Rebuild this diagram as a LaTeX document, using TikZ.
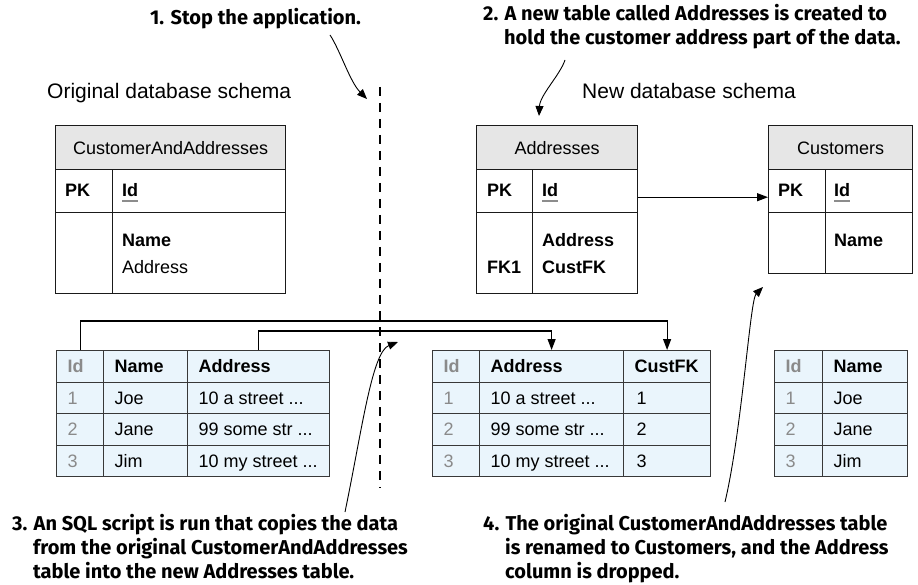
\documentclass[tikz,border=0pt]{standalone}
\usepackage{fontspec}
\setmainfont{Liberation Sans}
\newfontfamily\annfont{Fira Sans}
\usetikzlibrary{arrows.meta}
\definecolor{erline}{HTML}{1A1A1A}
\definecolor{hdrgray}{HTML}{E6E6E6}
\definecolor{dline}{HTML}{383838}
\definecolor{dfill}{HTML}{EAF5FC}
\definecolor{idgray}{HTML}{8A8A8A}
\definecolor{ulgray}{HTML}{8C8C8C}
\newcommand{\tabfont}{\fontsize{18}{21}\selectfont}
\newcommand{\lblfont}{\fontsize{21}{24}\selectfont}
\newcommand{\notefont}{\annfont\bfseries\fontsize{20}{24}\selectfont}
\newcommand{\cl}[2]{\makebox[#1pt][l]{#2}}
\tikzset{
  ercell/.style={draw=erline, line width=1.4pt, anchor=north west, inner sep=0pt, fill=white},
  erhead/.style={ercell, fill=hdrgray, minimum height=44pt, text height=13pt, text depth=0pt, font=\tabfont},
  ertxt/.style={inner sep=0pt, anchor=base west, font=\tabfont},
  erbold/.style={ertxt, font=\tabfont\bfseries},
  idul/.style={draw=ulgray, line width=1.6pt},
  dcell/.style={draw=dline, fill=dfill, line width=1.2pt, anchor=north west, minimum height=31.5pt, inner xsep=11pt, inner ysep=0pt, text height=13pt, text depth=0pt, font=\tabfont},
  dhead/.style={dcell, font=\tabfont\bfseries},
  dgray/.style={dcell, text=idgray},
  dghead/.style={dhead, text=idgray},
  conn/.style={draw=black, line width=1.2pt},
  headarrow/.style={-{Triangle[length=11pt,width=8pt]}},
  curvy/.style={draw=black, line width=0.9pt, -{Triangle[length=10pt,width=8pt]}},
  divider/.style={draw=black, line width=1.1pt, dash pattern=on 9pt off 7pt},
  annot/.style={inner sep=0pt, anchor=base west, font=\notefont},
  schemalbl/.style={inner sep=0pt, anchor=base west, font=\lblfont}
}
\begin{document}
\begin{tikzpicture}[x=1pt, y=-1pt]
\fill[white] (0,0) rectangle (918,585);
\useasboundingbox (0,0) rectangle (918,585);

% annotations
\node[annot] (t1) at (150,25) {1. Stop the application.};
\node[annot] (t2a) at (483,21) {2. A new table called Addresses is created to};
\node[annot] (t2b) at (504,45) {hold the customer address part of the data.};
\node[annot] (t3a) at (12,530) {3. An SQL script is run that copies the data};
\node[annot] (t3b) at (33,554) {from the original CustomerAndAddresses};
\node[annot] (t3c) at (33,578) {table into the new Addresses table.};
\node[annot] (t4a) at (483,530) {4. The original CustomerAndAddresses table};
\node[annot] (t4b) at (505,554) {is renamed to Customers, and the Address};
\node[annot] (t4c) at (505,578) {column is dropped.};

\node[schemalbl] (lorig) at (47,99) {Original database schema};
\node[schemalbl] (lnew) at (582,99) {New database schema};

% divider
\coordinate (dtop) at (380,87);
\coordinate (dbot) at (380,488);
\draw[divider] (dtop) -- (dbot);

% CustomerAndAddresses
\node[erhead, minimum width=230pt] (cah) at (55,125) {CustomerAndAddresses};
\node[ercell, minimum width=57pt, minimum height=43pt] (cak1) at (55,169) {};
\node[ercell, minimum width=173pt, minimum height=43pt] (caf1) at (112,169) {};
\node[ercell, minimum width=57pt, minimum height=81pt] (cak2) at (55,212) {};
\node[ercell, minimum width=173pt, minimum height=81pt] (caf2) at (112,212) {};
\node[erbold] (capk) at (65,197) {PK};
\node[erbold] (caid) at (122,197) {Id};
\draw[idul] ([yshift=-4pt]caid.base west) -- ([yshift=-4pt]caid.base east);
\node[erbold] (caname) at (122,246.5) {Name};
\node[ertxt] (caaddr) at (122,273.5) {Address};

% Addresses
\node[erhead, minimum width=161pt] (adh) at (476,125) {Addresses};
\node[ercell, minimum width=56pt, minimum height=43pt] (adk1) at (476,169) {};
\node[ercell, minimum width=105pt, minimum height=43pt] (adf1) at (532,169) {};
\node[ercell, minimum width=56pt, minimum height=81pt] (adk2) at (476,212) {};
\node[ercell, minimum width=105pt, minimum height=81pt] (adf2) at (532,212) {};
\node[erbold] (adpk) at (487,197) {PK};
\node[erbold] (adid) at (542,197) {Id};
\draw[idul] ([yshift=-4pt]adid.base west) -- ([yshift=-4pt]adid.base east);
\node[erbold] (adaddr) at (542,246.5) {Address};
\node[erbold] (adcfk) at (542,273.5) {CustFK};
\node[erbold] (adfk) at (487,273.5) {FK1};

% Customers
\node[erhead, minimum width=144pt] (cuh) at (768,125) {Customers};
\node[ercell, minimum width=57pt, minimum height=43pt] (cuk1) at (768,169) {};
\node[ercell, minimum width=87pt, minimum height=43pt] (cuf1) at (825,169) {};
\node[ercell, minimum width=57pt, minimum height=61pt] (cuk2) at (768,212) {};
\node[ercell, minimum width=87pt, minimum height=61pt] (cuf2) at (825,212) {};
\node[erbold] (cupk) at (778,197) {PK};
\node[erbold] (cuid) at (834,197) {Id};
\draw[idul] ([yshift=-4pt]cuid.base west) -- ([yshift=-4pt]cuid.base east);
\node[erbold] (cuname) at (834,246.5) {Name};

\draw[conn, headarrow] ([yshift=-6pt]adf1.east) -- ([yshift=-6pt]cuk1.west);

% data table 1
\node[dghead] (a11) at (56,350) {\cl{25}{Id}};
\node[dhead] (a12) at (103,350) {\cl{62}{Name}};
\node[dhead] (a13) at (187,350) {\cl{120}{Address}};
\node[dgray] (a21) at (56,381.5) {\cl{25}{1}};
\node[dcell] (a22) at (103,381.5) {\cl{62}{Joe}};
\node[dcell] (a23) at (187,381.5) {\cl{120}{10 a street ...}};
\node[dgray] (a31) at (56,413) {\cl{25}{2}};
\node[dcell] (a32) at (103,413) {\cl{62}{Jane}};
\node[dcell] (a33) at (187,413) {\cl{120}{99 some str ...}};
\node[dgray] (a41) at (56,444.5) {\cl{25}{3}};
\node[dcell] (a42) at (103,444.5) {\cl{62}{Jim}};
\node[dcell] (a43) at (187,444.5) {\cl{120}{10 my street ...}};

% data table 2
\node[dghead] (b11) at (432,350) {\cl{25}{Id}};
\node[dhead] (b12) at (479,350) {\cl{122}{Address}};
\node[dhead] (b13) at (623,350) {\cl{65}{CustFK}};
\node[dgray] (b21) at (432,381.5) {\cl{25}{1}};
\node[dcell] (b22) at (479,381.5) {\cl{122}{10 a street ...}};
\node[dcell] (b23) at (623,381.5) {\cl{65}{\hspace{2pt}1}};
\node[dgray] (b31) at (432,413) {\cl{25}{2}};
\node[dcell] (b32) at (479,413) {\cl{122}{99 some str ...}};
\node[dcell] (b33) at (623,413) {\cl{65}{\hspace{2pt}2}};
\node[dgray] (b41) at (432,444.5) {\cl{25}{3}};
\node[dcell] (b42) at (479,444.5) {\cl{122}{10 my street ...}};
\node[dcell] (b43) at (623,444.5) {\cl{65}{\hspace{2pt}3}};

% data table 3
\node[dghead] (c11) at (774,350) {\cl{26}{Id}};
\node[dhead] (c12) at (822,350) {\cl{63}{Name}};
\node[dgray] (c21) at (774,381.5) {\cl{26}{1}};
\node[dcell] (c22) at (822,381.5) {\cl{63}{Joe}};
\node[dgray] (c31) at (774,413) {\cl{26}{2}};
\node[dcell] (c32) at (822,413) {\cl{63}{Jane}};
\node[dgray] (c41) at (774,444.5) {\cl{26}{3}};
\node[dcell] (c42) at (822,444.5) {\cl{63}{Jim}};

% copy connectors
\coordinate (yhi) at (0,321);
\coordinate (ylo) at (0,331);
\draw[conn, headarrow] (a11.north) -- (a11.north |- yhi) -| (b13.north);
\draw[conn, headarrow] (a13.north) -- (a13.north |- ylo) -| (b12.north);

% annotation arrows
\coordinate (c1s) at (330,35);  \coordinate (c1e) at (367,99);
\draw[curvy] (c1s) .. controls (340,50) and (350,82) .. (c1e);
\coordinate (c2s) at (565,60);  \coordinate (c2e) at (539,116);
\draw[curvy] (c2s) .. controls (560,75) and (540,95) .. (c2e);
\coordinate (c3s) at (345,512); \coordinate (c3e) at (398,342);
\draw[curvy] (c3s) .. controls (362,430) and (372,352) .. (c3e);
\coordinate (c4s) at (725,502); \coordinate (c4e) at (763,287);
\draw[curvy] (c4s) .. controls (742,430) and (750,300) .. (c4e);
\end{tikzpicture}
\end{document}
